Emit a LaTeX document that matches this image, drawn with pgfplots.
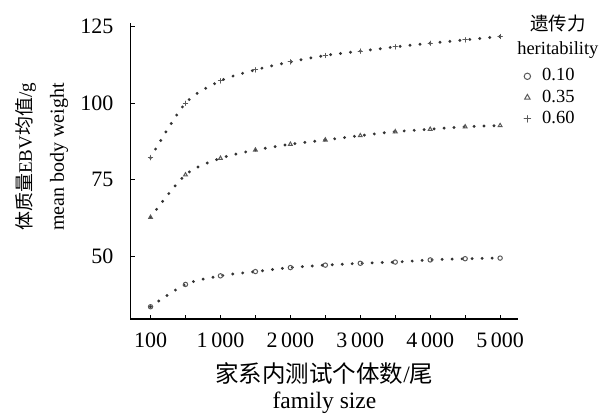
\documentclass[border=0pt]{standalone}
\usepackage{fontspec}
\setmainfont{Liberation Serif}
\newfontfamily\cjk{Noto Sans CJK SC}
\usepackage{pgfplots}
\pgfplotsset{compat=1.18}
\begin{document}
\begin{tikzpicture}
\useasboundingbox (-65.25bp,-48bp) rectangle (240.75bp,159.5bp);
\begin{axis}[
  scale only axis, width=193.9bp, height=147.85bp,
  xmin=-0.573, xmax=10.52, ymin=29.5, ymax=126.1,
  axis x line*=bottom, axis y line*=left,
  axis line style={line width=0.6pt, black},
  tick align=inside, major tick length=2.2bp,
  tick style={line width=0.6pt, black},
  xtick={0,...,10},
  xticklabels={100,,1\,000,,2\,000,,3\,000,,4\,000,,5\,000},
  ytick={50,75,100,125}, yticklabels={50,75,100,125},
  ticklabel style={font=\fontsize{11bp}{13bp}\selectfont},
  xticklabel style={yshift=-3.3bp},
  yticklabel style={xshift=-5bp},
  xlabel={{\cjk 家系内测试个体数}/{\cjk 尾}\\family size},
  xlabel style={at={(axis description cs:0.5,-0.233)}, anchor=center, align=center,
    font=\fontsize{11.75bp}{13bp}\selectfont},
  ylabel={{\fontsize{9.5bp}{16bp}\selectfont{\cjk 体质量}EBV{\cjk 均值}/g}\\mean body weight},
  ylabel style={at={(axis description cs:-0.228,0.548)}, anchor=center, align=center,
    font=\fontsize{10bp}{16bp}\selectfont},
  dotline/.style={black!80, line width=1.6bp, line cap=round,
    dash pattern=on 0pt off 5bp, smooth, mark size=1.1pt,
    mark options={solid, line width=0.5pt, black!65}},
  legend image code/.code={\path (-1.8pt,0pt) (6bp,0pt); \draw[#1] plot[only marks, mark size=1.6pt] coordinates {(0pt,0pt)};},
  legend style={at={(axis description cs:1.009,0.852)}, anchor=north west,
    draw=none, fill=none, inner sep=0pt, row sep=1.8bp,
    font=\fontsize{9.25bp}{10bp}\selectfont, nodes={inner sep=0.6bp}},
  legend cell align=left,
  clip=false,
]
\addplot[dotline, mark=o] coordinates {(0,33.5)(1,40.8)(2,43.6)(3,45.0)(4,46.3)(5,47.1)(6,47.7)(7,48.1)(8,48.8)(9,49.2)(10,49.4)};
\addlegendentry{0.10}
\addplot[dotline, mark=triangle] coordinates {(0,62.7)(1,76.6)(2,82.0)(3,84.7)(4,86.6)(5,88.0)(6,89.4)(7,90.7)(8,91.5)(9,92.3)(10,92.7)};
\addlegendentry{0.35}
\addplot[dotline, mark=+] coordinates {(0,82.2)(1,100.0)(2,107.3)(3,110.9)(4,113.5)(5,115.6)(6,117.0)(7,118.4)(8,119.6)(9,120.7)(10,121.8)};
\addlegendentry{0.60}
\node[align=center, font=\fontsize{9.25bp}{12bp}\selectfont] at (axis description cs:1.102,0.955) {{\cjk 遗传力}\\heritability};
\end{axis}
\end{tikzpicture}
\end{document}
